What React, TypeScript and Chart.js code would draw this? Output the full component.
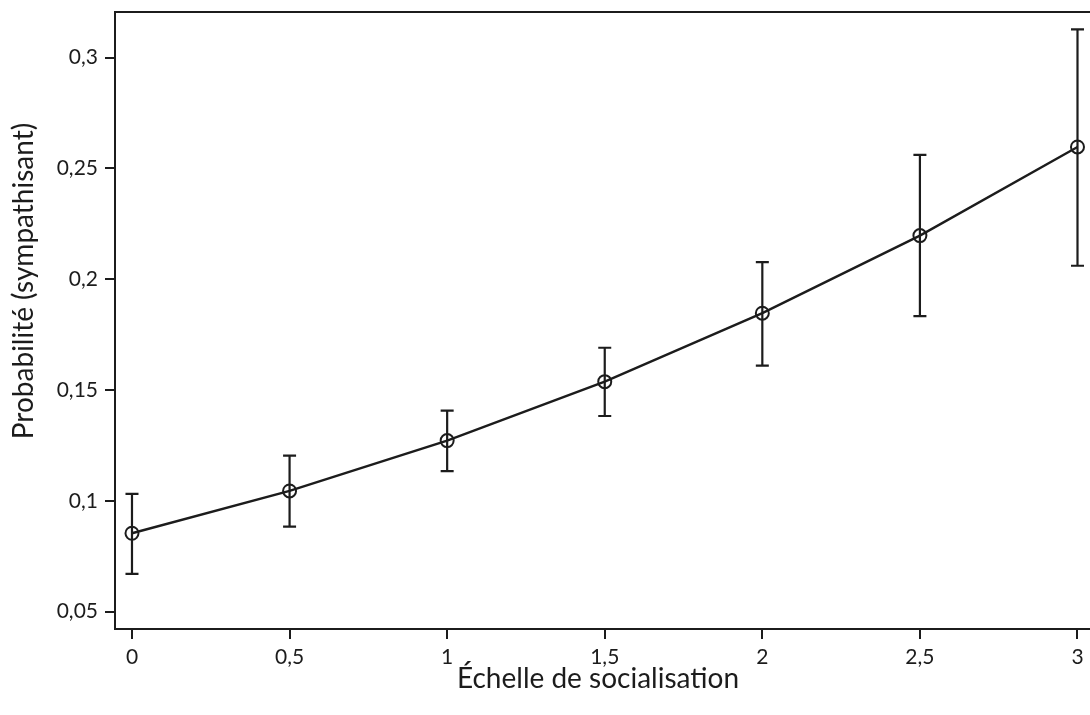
import React, { useEffect, useRef } from "react";
import { Chart, registerables } from "chart.js";

Chart.register(...registerables);

const xValues = [0, 0.5, 1, 1.5, 2, 2.5, 3];
const probability = [0.0854, 0.1045, 0.1272, 0.1538, 0.1847, 0.2197, 0.2597];
const upperCI = [0.1032, 0.1204, 0.1407, 0.1691, 0.2077, 0.2561, 0.3128];
const lowerCI = [0.0671, 0.0884, 0.1134, 0.1383, 0.161, 0.1834, 0.2061];
const xTicks = [0, 0.5, 1, 1.5, 2, 2.5, 3];
const yTicks = [0.05, 0.1, 0.15, 0.2, 0.25, 0.3];

const xTitle = "Échelle de socialisation";
const yTitle = "Probabilité (sympathisant)";

const INK = "#1c1c1c";
const FONT = "Lato";

const fmt = (v: number) => String(v).replace(".", ",");

const errorBarPlugin = {
  id: "errorBars",
  afterDatasetsDraw(chart: any) {
    const { ctx } = chart;
    const xs = chart.scales.x;
    const ys = chart.scales.y;
    ctx.save();
    ctx.strokeStyle = INK;
    ctx.lineWidth = 2.2;
    const cap = 6.5;
    xValues.forEach((xv, i) => {
      const px = xs.getPixelForValue(xv);
      const top = ys.getPixelForValue(upperCI[i]);
      const bot = ys.getPixelForValue(lowerCI[i]);
      ctx.beginPath();
      ctx.moveTo(px, top);
      ctx.lineTo(px, bot);
      ctx.moveTo(px - cap, top);
      ctx.lineTo(px + cap, top);
      ctx.moveTo(px - cap, bot);
      ctx.lineTo(px + cap, bot);
      ctx.stroke();
    });
    ctx.restore();
  },
};

const framePlugin = {
  id: "frame",
  afterDraw(chart: any) {
    const { ctx, chartArea, width } = chart;
    const { left, top, bottom } = chartArea;
    ctx.save();
    ctx.strokeStyle = INK;
    ctx.lineWidth = 2;
    ctx.beginPath();
    ctx.moveTo(width, top);
    ctx.lineTo(left, top);
    ctx.lineTo(left, bottom);
    ctx.lineTo(width, bottom);
    ctx.stroke();

    // axis titles
    ctx.fillStyle = INK;
    ctx.font = `28px ${FONT}`;
    ctx.textAlign = "center";
    ctx.textBaseline = "alphabetic";
    ctx.fillText(xTitle, 598, 688);
    ctx.translate(33, 281);
    ctx.rotate(-Math.PI / 2);
    ctx.fillText(yTitle, 0, 0);
    ctx.restore();
  },
};

const noPad = (scale: any) => {
  scale.paddingTop = 0;
  scale.paddingBottom = 0;
  scale.paddingLeft = 0;
  scale.paddingRight = 0;
};

export default function App() {
  const canvasRef = useRef<HTMLCanvasElement | null>(null);

  useEffect(() => {
    if (!canvasRef.current) return;
    const chart = new Chart(canvasRef.current, {
      type: "line",
      data: {
        datasets: [
          {
            label: "Probabilité",
            data: xValues.map((x, i) => ({ x, y: probability[i] })),
            borderColor: INK,
            borderWidth: 2.4,
            pointRadius: 6.5,
            pointBorderWidth: 2,
            pointBorderColor: INK,
            pointBackgroundColor: "rgba(0,0,0,0)",
            tension: 0,
            fill: false,
            clip: false,
          },
        ],
      },
      options: {
        animation: false,
        responsive: false,
        maintainAspectRatio: false,
        layout: { padding: { top: 12, right: 0, left: 0, bottom: 0 } },
        plugins: {
          legend: { display: false },
          tooltip: { enabled: false },
        },
        scales: {
          x: {
            type: "linear",
            min: -0.0539,
            max: 3.0127,
            afterFit: (scale: any) => {
              scale.height = 86;
              noPad(scale);
            },
            afterBuildTicks: (scale: any) => {
              scale.ticks = xTicks.map((v) => ({ value: v }));
            },
            grid: {
              display: true,
              drawOnChartArea: false,
              drawTicks: true,
              tickLength: 10,
              color: INK,
              lineWidth: 2,
            },
            border: { display: false },
            ticks: {
              color: INK,
              padding: 6,
              maxRotation: 0,
              autoSkip: false,
              font: { family: FONT, size: 21 },
              callback: (v: any) => fmt(Number(v)),
            },
            title: { display: false },
          },
          y: {
            type: "linear",
            min: 0.0422,
            max: 0.3206,
            afterFit: (scale: any) => {
              scale.width = 115;
              noPad(scale);
            },
            afterBuildTicks: (scale: any) => {
              scale.ticks = yTicks.map((v) => ({ value: v }));
            },
            grid: {
              display: true,
              drawOnChartArea: false,
              drawTicks: true,
              tickLength: 10,
              color: INK,
              lineWidth: 2,
            },
            border: { display: false },
            ticks: {
              color: INK,
              padding: 7,
              autoSkip: false,
              font: { family: FONT, size: 21 },
              callback: (v: any) => fmt(Number(v)),
            },
            title: { display: false },
          },
        },
      },
      plugins: [errorBarPlugin, framePlugin],
    } as any);
    return () => chart.destroy();
  }, []);

  return (
    <div style={{ position: "absolute", left: 0, top: 0, width: 1090, height: 715, background: "#fff" }}>
      <canvas ref={canvasRef} width={1090} height={715} style={{ width: 1090, height: 715 }} />
    </div>
  );
}
